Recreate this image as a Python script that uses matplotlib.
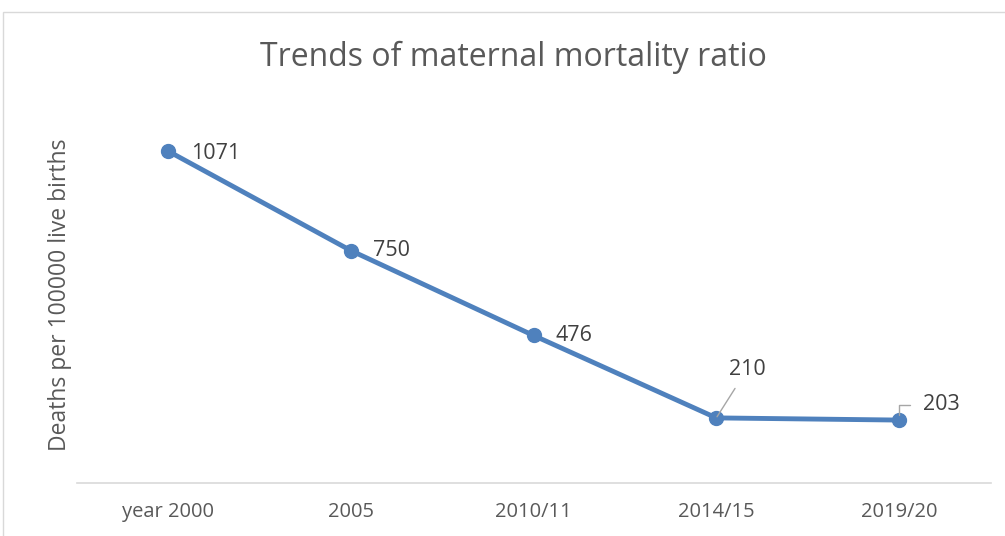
import matplotlib.pyplot as plt
from matplotlib.patches import Rectangle

# datos del gráfico
periodos = ['year 2000', '2005', '2010/11', '2014/15', '2019/20']
razon_mm = [1071, 750, 476, 210, 203]

azul = '#4F81BD'
gris_txt = '#595959'
gris_lbl = '#404040'

fig = plt.figure(figsize=(10.05, 5.36), dpi=100)
plt.rcParams['font.family'] = ['Open Sans', 'DejaVu Sans']

# borde del área del gráfico
fig.patches.append(Rectangle((3 / 1005, -0.05), 1.1, (536 - 12) / 536 + 0.05,
                             transform=fig.transFigure, fill=False,
                             edgecolor='#d9d9d9', linewidth=1))

ax = fig.add_axes([76.5 / 1005, 53 / 536, 914 / 1005, 372 / 536])
x = list(range(len(periodos)))
ax.plot(x, razon_mm, color=azul, linewidth=3.5, marker='o', markersize=10,
        solid_capstyle='round', zorder=3)

ax.set_xlim(-0.5, len(periodos) - 0.5)
ax.set_ylim(0, 1200)
ax.set_xticks(x)
ax.set_xticklabels(periodos, fontsize=14.5, color=gris_txt)
ax.tick_params(axis='x', length=0, pad=14)
ax.set_yticks([])
for lado in ['top', 'right', 'left']:
    ax.spines[lado].set_visible(False)
ax.spines['bottom'].set_color('#d9d9d9')
ax.spines['bottom'].set_linewidth(1.2)

ax.set_ylabel('Deaths per 100000 live births', fontsize=16.5, color=gris_txt)
ax.yaxis.set_label_coords(-16 / 914, 0.5, transform=None)
ax.yaxis.label.set_transform(fig.transFigure)
ax.yaxis.label.set_position((60 / 1005, 1 - 295 / 536))
ax.yaxis.label.set_verticalalignment('center')

fig.text(513 / 1005, 1 - 57 / 536, 'Trends of maternal mortality ratio',
         ha='center', va='center', fontsize=23, color=gris_txt)

# etiquetas de datos
estilo = dict(fontsize=15.5, color=gris_lbl, va='center', ha='left',
              textcoords='offset points')
ax.annotate(str(razon_mm[0]), (x[0], razon_mm[0]), xytext=(17, -2), **estilo)
ax.annotate(str(razon_mm[1]), (x[1], razon_mm[1]), xytext=(16, 0), **estilo)
ax.annotate(str(razon_mm[2]), (x[2], razon_mm[2]), xytext=(16, 0), **estilo)
ax.annotate(str(razon_mm[3]), (x[3], razon_mm[3]), xytext=(9, 35),
            arrowprops=dict(arrowstyle='-', color='#a6a6a6', lw=1,
                            shrinkA=5, shrinkB=1), **estilo)
ax.annotate(str(razon_mm[4]), (x[4], razon_mm[4]), xytext=(17, 11),
            arrowprops=dict(arrowstyle='-', color='#a6a6a6', lw=1,
                            connectionstyle='angle,angleA=0,angleB=90,rad=0',
                            shrinkA=7, shrinkB=4), **estilo)

fig.savefig('out.png', dpi=100)
